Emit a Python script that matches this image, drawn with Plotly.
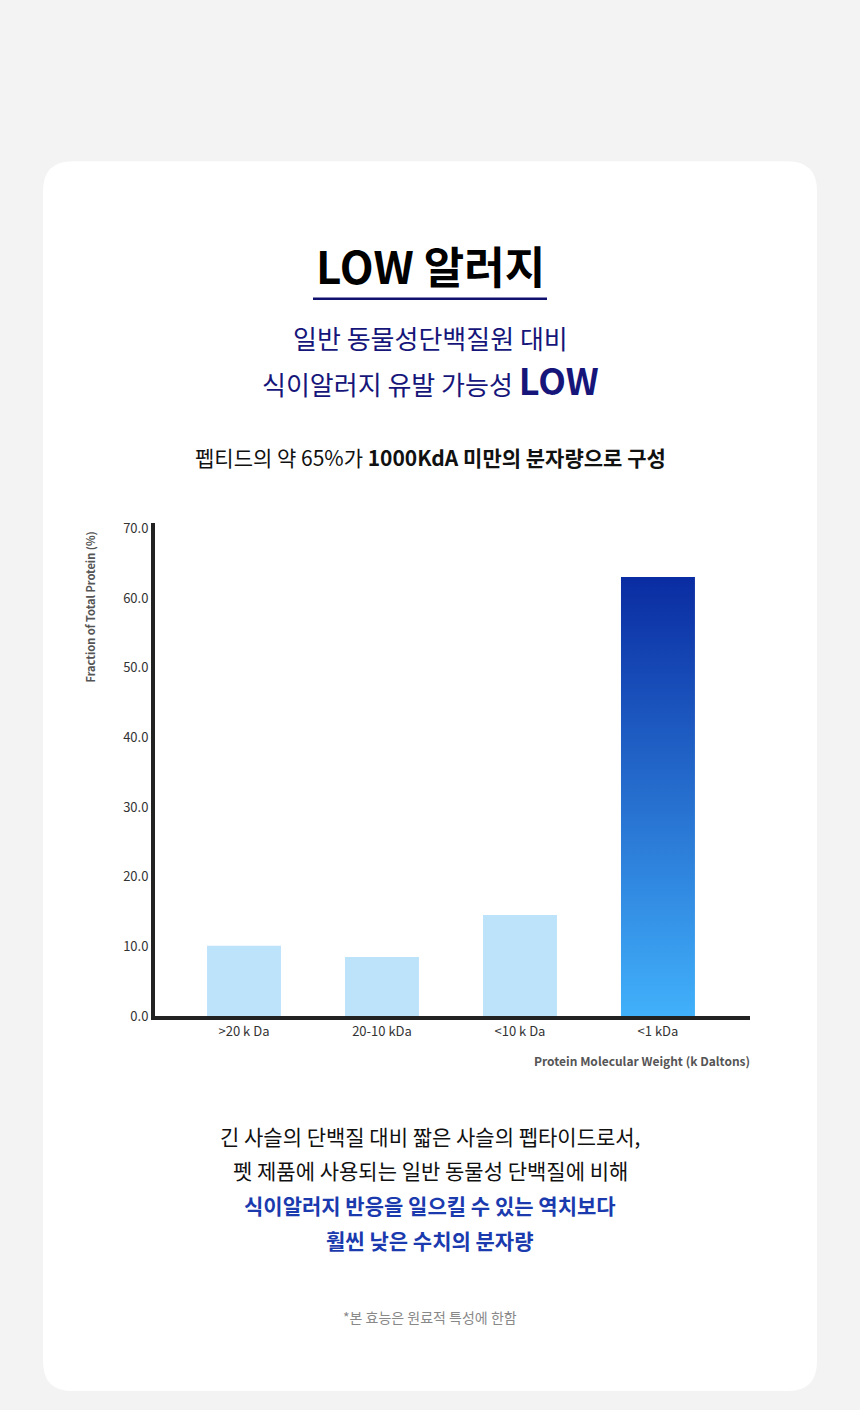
import plotly.graph_objects as go

categories = [">20 k Da", "20-10 kDa", "<10 k Da", "<1 kDa"]
values = [10.1, 8.5, 14.5, 63.0]
y_ticks = [0, 10, 20, 30, 40, 50, 60, 70]

W, H = 860, 1410
FONT = "Noto Sans CJK KR"
BW = 0.536

def px(x): return x / W
def py(y): return 1 - y / H

fig = go.Figure()
xs = list(range(len(categories)))
fig.add_trace(go.Bar(x=xs[:3], y=values[:3], width=BW, marker=dict(color="#bde3fa", line=dict(width=0)),
                     hoverinfo="skip"))
i = 3
fig.add_trace(go.Scatter(
    x=[xs[i] - BW / 2, xs[i] + BW / 2, xs[i] + BW / 2, xs[i] - BW / 2, xs[i] - BW / 2],
    y=[0, 0, values[i], values[i], 0], mode="lines", line=dict(width=0), fill="toself",
    fillgradient=dict(type="vertical", colorscale=[[0, "#42b2fc"], [1, "#0a2ca2"]], start=0, stop=values[i]),
    hoverinfo="skip"))

# card
r = 30
x0, x1, y0, y1 = px(43), px(817), py(1400), py(157)
rx, ry = r / W, r / H
path = (f"M{x0+rx},{y0} L{x1-rx},{y0} Q{x1},{y0} {x1},{y0+ry} L{x1},{y1-ry} Q{x1},{y1} {x1-rx},{y1} "
        f"L{x0+rx},{y1} Q{x0},{y1} {x0},{y1-ry} L{x0},{y0+ry} Q{x0},{y0} {x0+rx},{y0} Z")
shapes = [dict(type="path", path=path, xref="paper", yref="paper", fillcolor="white", line=dict(width=0), layer="below"),
          dict(type="line", xref="paper", yref="paper", x0=px(313), x1=px(547), y0=py(296), y1=py(296),
               line=dict(color="#10106e", width=2.5))]

ann = []
def t(text, x, y, size, color, xanchor="center", **kw):
    ann.append(dict(text=text, x=px(x), y=py(y), xref="paper", yref="paper", showarrow=False,
                    xanchor=xanchor, yanchor="middle", font=dict(family=FONT, size=size, color=color), **kw))

t("<b>LOW 알러지</b>", 430, 262, 44, "#000")
t("일반 동물성단백질원 대비", 430, 335, 26, "#16167a")
t("식이알러지 유발 가능성 <b><span style='font-size:36px'>LOW</span></b>", 430, 377, 26, "#16167a")
t("펩티드의 약 65%가 <b>1000KdA 미만의 분자량으로 구성</b>", 430, 456, 21, "#111")
t("<b>Fraction of Total Protein (%)</b>", 90, 608, 11, "#555", textangle=-90)
t("<b>Protein Molecular Weight (k Daltons)</b>", 752, 1066, 12, "#555", xanchor="right")
t("긴 사슬의 단백질 대비 짧은 사슬의 펩타이드로서,", 430, 1142, 21, "#111")
t("펫 제품에 사용되는 일반 동물성 단백질에 비해", 430, 1177, 21, "#111")
t("<b>식이알러지 반응을 일으킬 수 있는 역치보다</b>", 430, 1212, 21, "#1a3aae")
t("<b>훨씬 낮은 수치의 분자량</b>", 430, 1247, 21, "#1a3aae")
t("*본 효능은 원료적 특성에 한함", 430, 1325, 14, "#888")

fig.update_layout(
    width=W, height=H, margin=dict(l=0, r=0, t=0, b=0), paper_bgcolor="#f3f3f3", plot_bgcolor="white",
    showlegend=False, shapes=shapes, annotations=ann,
    xaxis=dict(domain=[px(155), px(750)], range=[-0.645, 3.667], tickvals=xs, ticktext=categories,
               showgrid=False, zeroline=False, showline=True, linecolor="#222", linewidth=4,
               ticks="", tickfont=dict(family=FONT, size=13, color="#333"), fixedrange=True),
    yaxis=dict(domain=[py(1021), py(523)], range=[0, 70.7], tickvals=y_ticks, tickformat=".1f",
               showgrid=False, zeroline=False, showline=True, linecolor="#222", linewidth=4,
               ticks="", tickfont=dict(family=FONT, size=13, color="#333"), fixedrange=True),
)
fig.write_html("out.html", config={"displayModeBar": False},
               post_script="document.body.style.margin='0';document.body.style.overflow='hidden';")
